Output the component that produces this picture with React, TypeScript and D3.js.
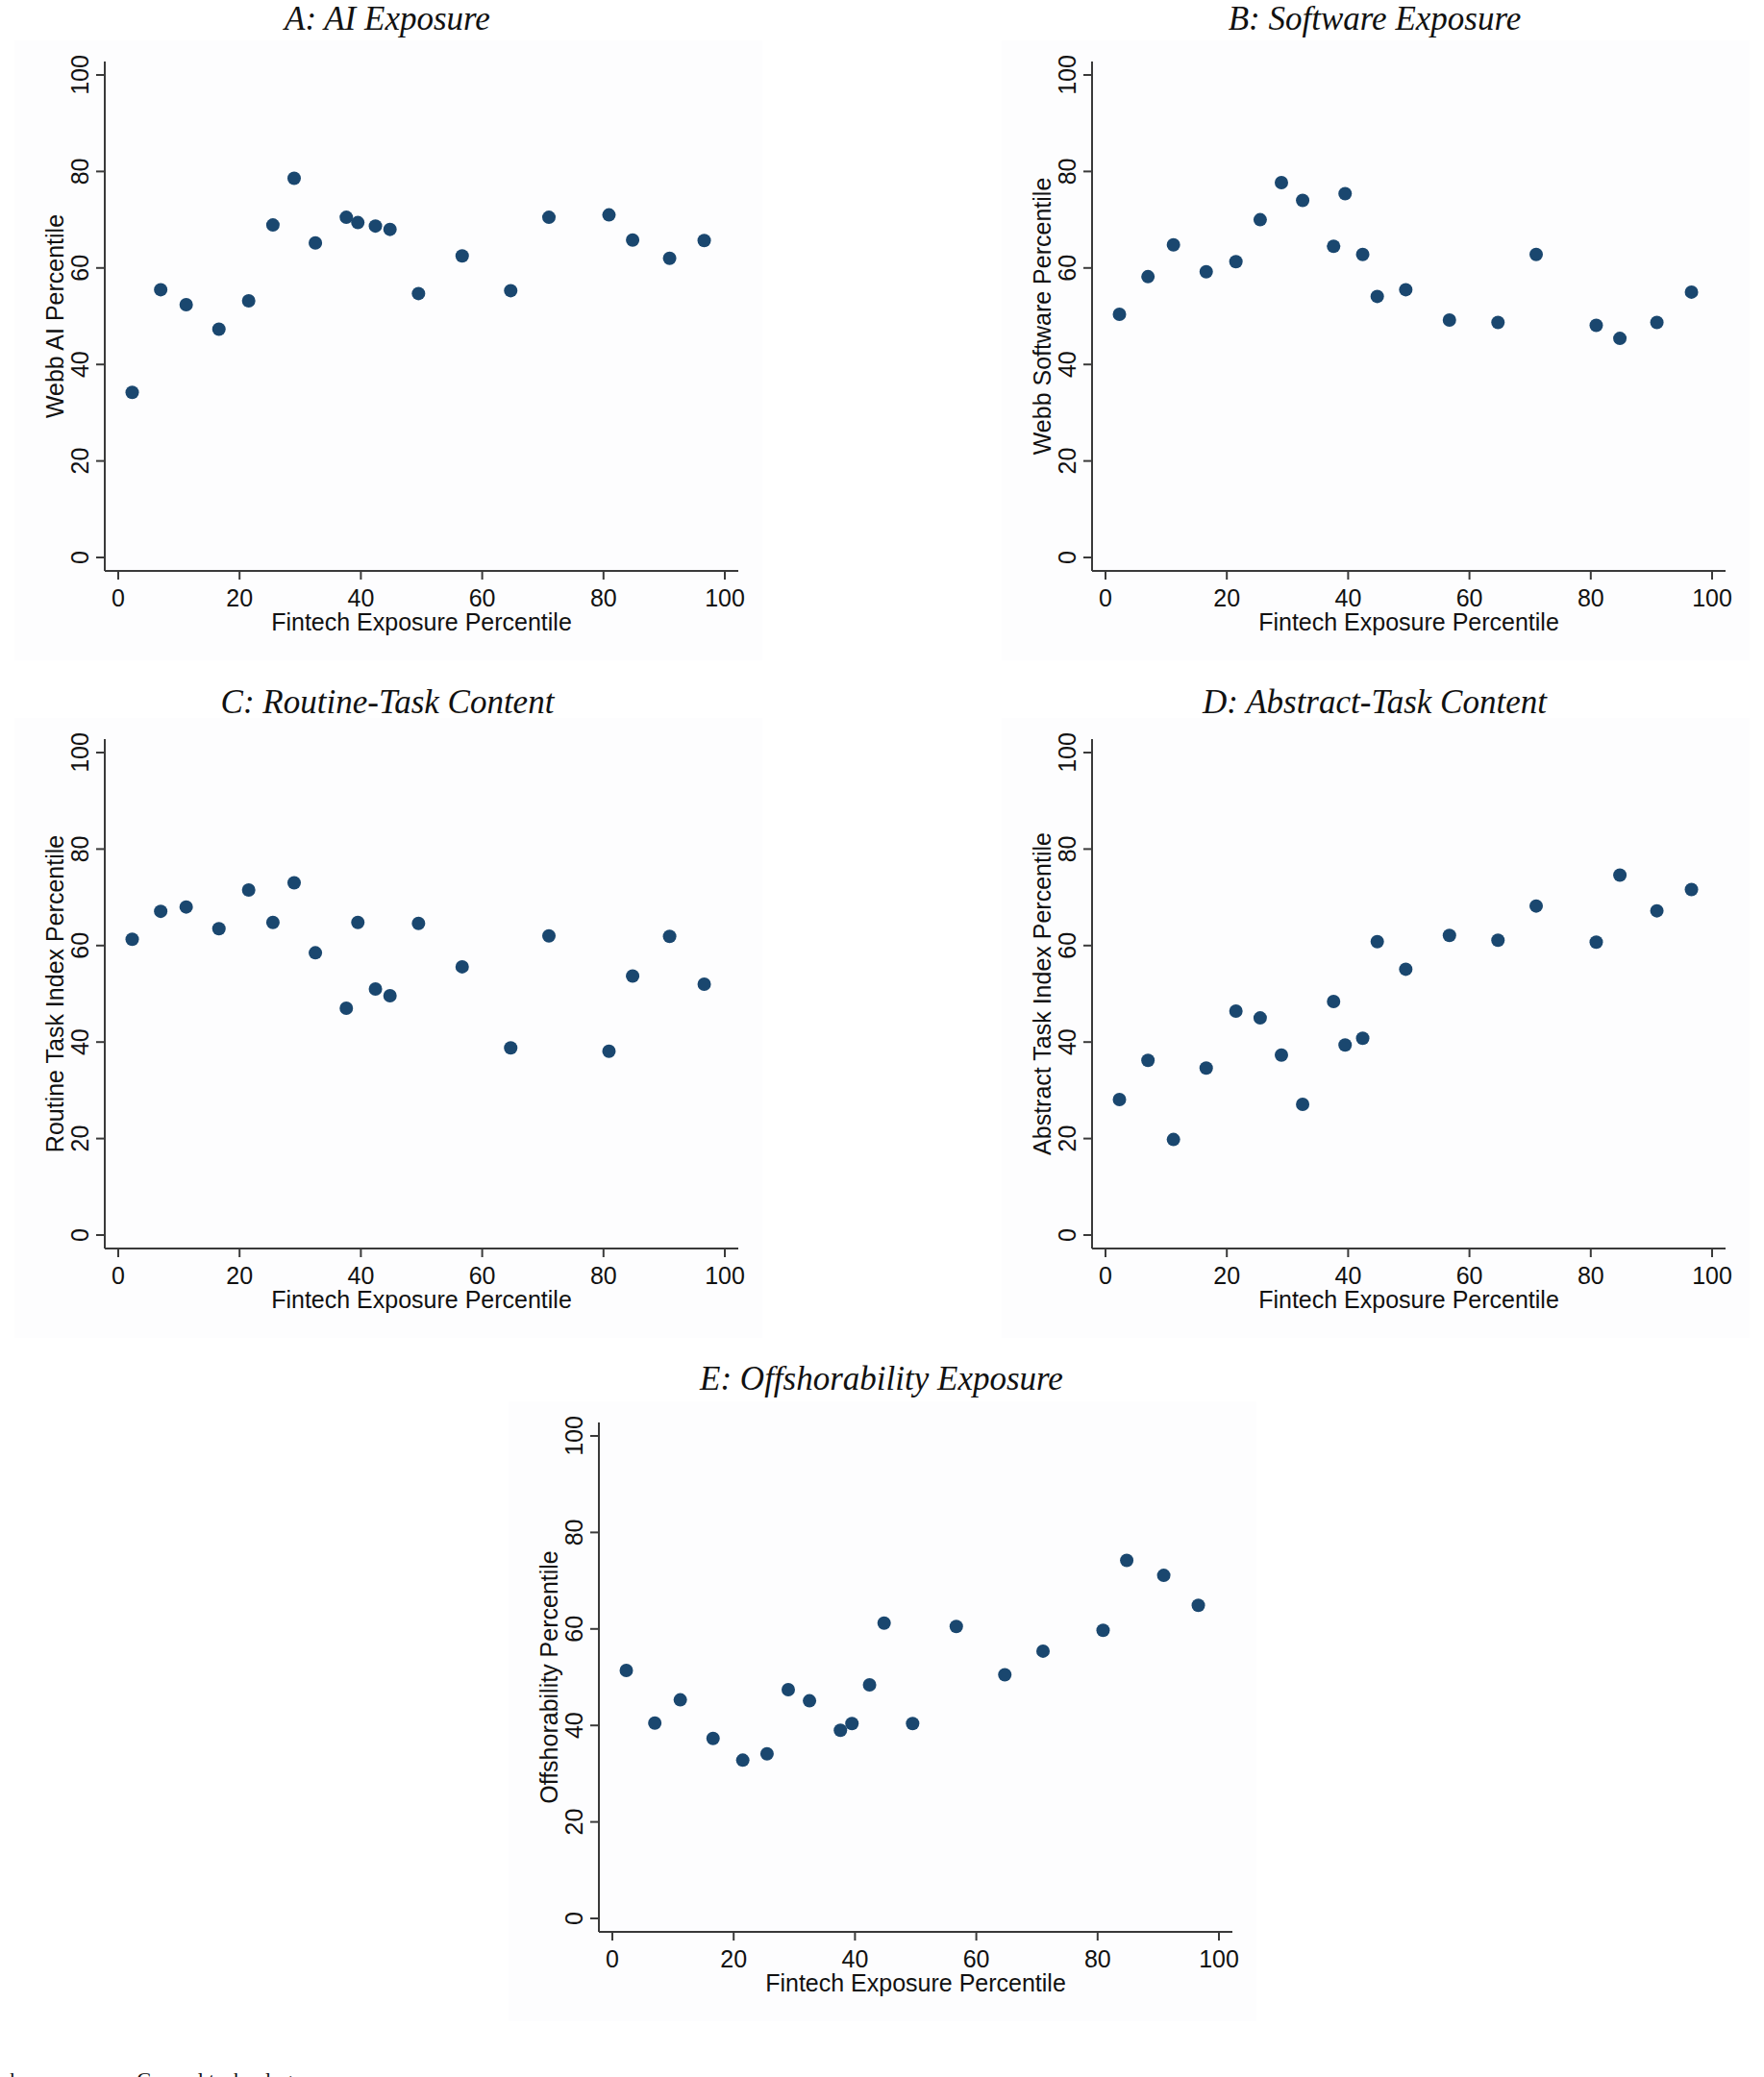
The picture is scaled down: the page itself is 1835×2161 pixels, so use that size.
import React, { useEffect, useRef } from "react";
import * as d3 from "d3";

// binned scatter: same 20 fintech bins on every panel
const fintechPct = [2.3, 7.0, 11.2, 16.6, 21.5, 25.5, 29.0, 32.5, 37.6, 39.5, 42.4, 44.8, 49.5, 56.7, 64.7, 71.0, 80.9, 84.8, 90.9, 96.6];
const aiPct = [34.2, 55.5, 52.4, 47.3, 53.2, 68.9, 78.6, 65.2, 70.5, 69.4, 68.7, 68.0, 54.7, 62.5, 55.3, 70.5, 71.0, 65.8, 62.0, 65.7];
const softwarePct = [50.4, 58.2, 64.8, 59.2, 61.3, 70.0, 77.7, 74.0, 64.5, 75.4, 62.8, 54.1, 55.5, 49.2, 48.7, 62.8, 48.1, 45.4, 48.7, 55.0];
const routinePct = [61.3, 67.1, 68.0, 63.5, 71.5, 64.8, 73.0, 58.5, 47.0, 64.8, 51.0, 49.6, 64.6, 55.6, 38.8, 62.0, 38.1, 53.7, 61.9, 52.0];
const abstractPct = [28.1, 36.2, 19.8, 34.6, 46.4, 45.0, 37.3, 27.1, 48.4, 39.4, 40.8, 60.8, 55.1, 62.1, 61.1, 68.2, 60.7, 74.6, 67.2, 71.6];
const offshorePct = [51.4, 40.5, 45.3, 37.3, 32.8, 34.1, 47.4, 45.1, 39.0, 40.4, 48.4, 61.2, 40.4, 60.5, 50.5, 55.4, 59.7, 74.2, 71.1, 64.9];

const panelTitles = ["A: AI Exposure", "B: Software Exposure", "C: Routine-Task Content", "D: Abstract-Task Content", "E: Offshorability Exposure"];
const yLabels = ["Webb AI Percentile", "Webb Software Percentile", "Routine Task Index Percentile", "Abstract Task Index Percentile", "Offshorability Percentile"];
const ySeries = [aiPct, softwarePct, routinePct, abstractPct, offshorePct];
const xLabel = "Fintech Exposure Percentile";
const tickValues = [0, 20, 40, 60, 80, 100];
const caption = "Fintech exposure vs. General technology exposure";

// layout: data origin of each panel (pixel of x=0,y=0) and title baseline
const origins = [
  [123, 580],
  [1150, 580],
  [123, 1285],
  [1150, 1285],
  [637, 1996],
];
const titleY = [31, 31, 742, 742, 1446];
const plotW = 631,
  plotH = 502;

const sans = "'Liberation Sans', Arial, sans-serif";
const serif = "'Liberation Serif', 'Times New Roman', serif";
const axisColor = "#3a3a3a";
const dotColor = "#1a476f";

export default function App() {
  const ref = useRef<SVGSVGElement | null>(null);

  useEffect(() => {
    const svg = d3.select(ref.current);
    svg.selectAll("*").remove();

    svg.append("rect").attr("width", 1835).attr("height", 2161).attr("fill", "#ffffff");

    origins.forEach(([x0, y0], i) => {
      const x = d3.scaleLinear().domain([0, 100]).range([x0, x0 + plotW]);
      const y = d3.scaleLinear().domain([0, 100]).range([y0, y0 - plotH]);
      const g = svg.append("g");

      const axX = x0 - 14; // y axis line position
      const axY = y0 + 14; // x axis line position

      // faint graph region
      g.append("rect")
        .attr("x", x0 - 108)
        .attr("y", y0 - 538)
        .attr("width", 778)
        .attr("height", 645)
        .attr("fill", "#fdfdfe");

      // title
      g.append("text")
        .attr("x", x0 + 280)
        .attr("y", titleY[i])
        .attr("text-anchor", "middle")
        .style("font-family", serif)
        .style("font-style", "italic")
        .style("font-size", "35px")
        .style("fill", "#111")
        .text(panelTitles[i]);

      // axis lines
      g.append("line")
        .attr("x1", axX)
        .attr("x2", axX)
        .attr("y1", y(100) - 14)
        .attr("y2", axY)
        .attr("stroke", axisColor)
        .attr("stroke-width", 2);
      g.append("line")
        .attr("x1", axX)
        .attr("x2", x(100) + 14)
        .attr("y1", axY)
        .attr("y2", axY)
        .attr("stroke", axisColor)
        .attr("stroke-width", 2);

      // y ticks + rotated labels
      tickValues.forEach((t) => {
        g.append("line")
          .attr("x1", axX - 9)
          .attr("x2", axX)
          .attr("y1", y(t))
          .attr("y2", y(t))
          .attr("stroke", axisColor)
          .attr("stroke-width", 2);
        g.append("text")
          .attr("transform", `translate(${axX - 17},${y(t)}) rotate(-90)`)
          .attr("text-anchor", "middle")
          .style("font-family", sans)
          .style("font-size", "25px")
          .style("fill", "#111")
          .text(t);
      });

      // x ticks + labels
      tickValues.forEach((t) => {
        g.append("line")
          .attr("x1", x(t))
          .attr("x2", x(t))
          .attr("y1", axY)
          .attr("y2", axY + 9)
          .attr("stroke", axisColor)
          .attr("stroke-width", 2);
        g.append("text")
          .attr("x", x(t))
          .attr("y", axY + 37)
          .attr("text-anchor", "middle")
          .style("font-family", sans)
          .style("font-size", "25px")
          .style("fill", "#111")
          .text(t);
      });

      // axis titles
      g.append("text")
        .attr("x", (axX + x(100) + 14) / 2)
        .attr("y", axY + 62)
        .attr("text-anchor", "middle")
        .style("font-family", sans)
        .style("font-size", "25px")
        .style("fill", "#111")
        .text(xLabel);
      g.append("text")
        .attr("transform", `translate(${axX - 43},${(y(100) - 14 + axY) / 2}) rotate(-90)`)
        .attr("text-anchor", "middle")
        .style("font-family", sans)
        .style("font-size", "25px")
        .style("fill", "#111")
        .text(yLabels[i]);

      // dots
      g.append("g")
        .selectAll("circle")
        .data(fintechPct.map((fx, k) => [fx, ySeries[i][k]]))
        .enter()
        .append("circle")
        .attr("cx", (d) => x(d[0]))
        .attr("cy", (d) => y(d[1]))
        .attr("r", 7)
        .style("fill", dotColor);
    });

    // figure caption, mostly cut off at page bottom
    svg
      .append("text")
      .attr("x", 400)
      .attr("y", 2171)
      .attr("text-anchor", "end")
      .style("font-family", serif)
      .style("font-size", "22px")
      .style("fill", "#111")
      .text(caption);
  }, []);

  return (
    <svg
      ref={ref}
      width={1835}
      height={2161}
      style={{ position: "absolute", left: 0, top: 0, display: "block" }}
    />
  );
}
